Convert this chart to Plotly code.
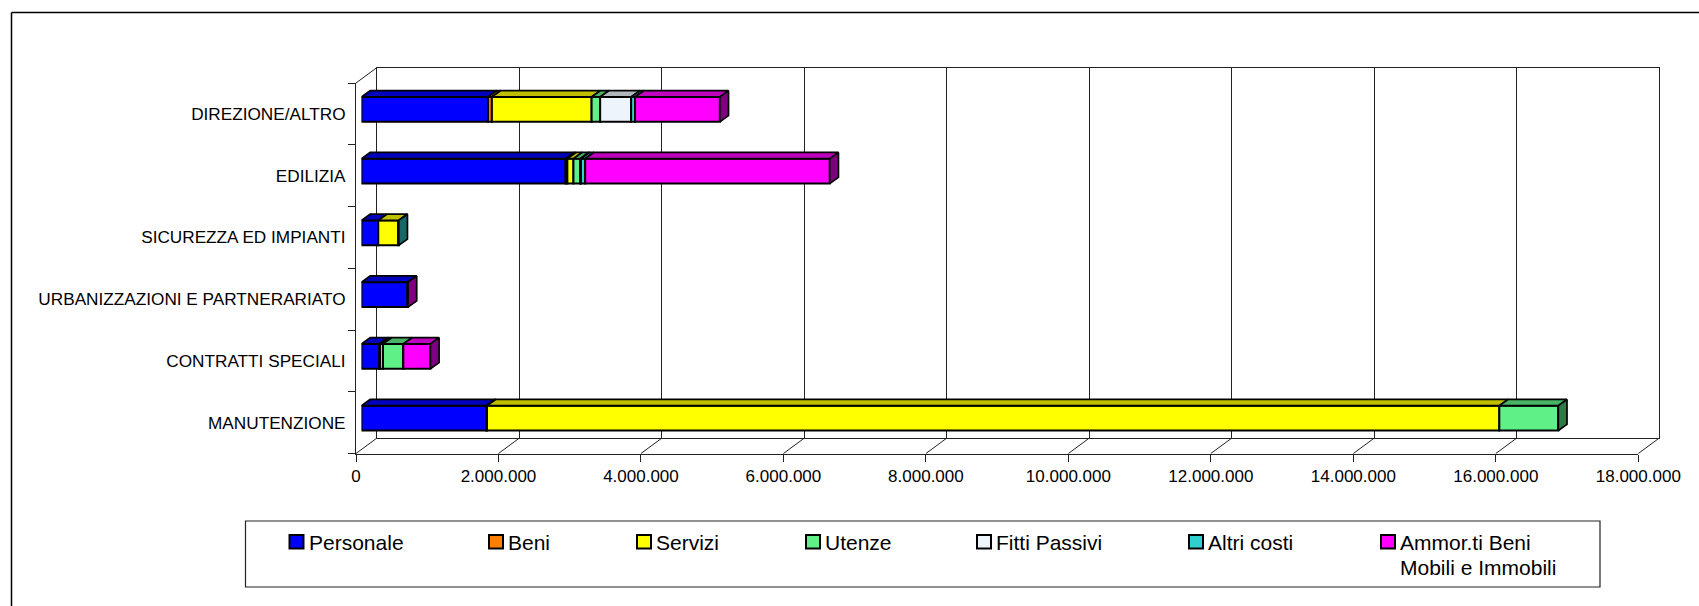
import plotly.graph_objects as go

W, H = 1699, 606

categories = ["MANUTENZIONE", "CONTRATTI SPECIALI", "URBANIZZAZIONI E PARTNERARIATO",
              "SICUREZZA ED IMPIANTI", "EDILIZIA", "DIREZIONE/ALTRO"]
personale = [1750000, 250000, 650000, 235000, 2865000, 1775000]
beni = [12000, 12000, 0, 0, 25000, 55000]
servizi = [14210000, 40000, 0, 285000, 85000, 1400000]
utenze = [828000, 285000, 0, 0, 95000, 120000]
fitti = [0, 0, 0, 0, 10000, 435000]
altri = [0, 0, 0, 3000, 60000, 55000]
ammortamenti = [0, 380000, 3000, 0, 3433000, 1190000]
series_names = ["Personale", "Beni", "Servizi", "Utenze", "Fitti Passivi", "Altri costi",
                "Ammor.ti Beni<br>Mobili e Immobili"]
series_values = [personale, beni, servizi, utenze, fitti, altri, ammortamenti]
series_colors = ["#0000FF", "#FF8000", "#FFFF00", "#60F088", "#EEF4FB", "#30D0D0", "#FF00FF"]
x_ticks = list(range(0, 18000001, 2000000))

FONT = "Liberation Sans"
X0, X1 = 356.0, 1638.3          # front axis, pixels
Y_TOP, Y_BOT = 83.0, 453.5
WALL_DX, WALL_DY = 21.0, 15.5   # depth of the back wall
BAR_DX, BAR_DY = 5.5, 4.5       # bars stand inside the depth
FACE_DX, FACE_DY = 8.7, 6.2     # depth of each bar
BAR_W = 0.404
LEG_X = [289.5, 489, 637, 806, 977, 1189, 1381]
LEG_LINE = 24.5


def fx(px):
    return px / W


def fy(py):
    return 1 - py / H


def shade(hex_color, k):
    r, g, b = int(hex_color[1:3], 16), int(hex_color[3:5], 16), int(hex_color[5:7], 16)
    return f"rgb({int(r * k)},{int(g * k)},{int(b * k)})"


val_per_px = 18000000 / (X1 - X0)
cat_per_px = 6 / (Y_BOT - Y_TOP)
face_dx = FACE_DX * val_per_px
face_dy = FACE_DY * cat_per_px
positions = list(range(len(categories)))

fig = go.Figure()

# back wall subplot (xy): only carries the grid
fig.add_trace(go.Scatter(x=[0], y=[0], xaxis="x", yaxis="y", mode="none", hoverinfo="skip", showlegend=False))
# front axes subplot (x2y2): ticks and labels
fig.add_trace(go.Scatter(x=[0] * 6, y=categories, xaxis="x2", yaxis="y2", mode="none",
                         hoverinfo="skip", showlegend=False))

# bars (x3y3)
cum = [0.0] * len(categories)
tops = []
for name, vals, col in zip(series_names, series_values, series_colors):
    fig.add_trace(go.Bar(y=positions, x=vals, base=cum, name=name.replace("<br>", " "), orientation="h",
                         width=BAR_W, xaxis="x3", yaxis="y3", showlegend=False,
                         marker=dict(color=col, line=dict(color="black", width=2))))
    px_, py_ = [], []
    for i, v in enumerate(vals):
        if v > 0:
            a, b = cum[i], cum[i] + v
            y = i + BAR_W / 2
            px_ += [a, b, b + face_dx, a + face_dx, a, None]
            py_ += [y, y, y + face_dy, y + face_dy, y, None]
    tops.append((px_, py_, shade(col, 0.75)))
    cum = [c + v for c, v in zip(cum, vals)]

for px_, py_, col in tops:
    fig.add_trace(go.Scatter(x=px_, y=py_, xaxis="x3", yaxis="y3", mode="lines", fill="toself", fillcolor=col,
                             line=dict(color="black", width=1.7), hoverinfo="skip", showlegend=False))

# right-hand face: colour of the last segment in each bar
for i in range(len(categories)):
    last = max(j for j, s in enumerate(series_values) if s[i] > 0)
    e = cum[i]
    lo, hi = i - BAR_W / 2, i + BAR_W / 2
    fig.add_trace(go.Scatter(x=[e, e + face_dx, e + face_dx, e, e],
                             y=[lo, lo + face_dy, hi + face_dy, hi, lo],
                             xaxis="x3", yaxis="y3", mode="lines", fill="toself",
                             fillcolor=shade(series_colors[last], 0.5),
                             line=dict(color="black", width=1.7), hoverinfo="skip", showlegend=False))

cat_range = [-0.5, 5.5]
hidden = dict(showticklabels=False, ticks="", showgrid=False, zeroline=False, showline=False)

layout = dict(
    template="none",
    width=W, height=H, margin=dict(l=0, r=0, t=0, b=0, pad=0), autosize=False,
    paper_bgcolor="white", plot_bgcolor="rgba(0,0,0,0)", showlegend=False, barmode="overlay",
    separators=",.", font=dict(family=FONT, color="black", size=17),
    xaxis=dict(domain=[fx(X0 + WALL_DX), fx(X1 + WALL_DX)], range=[0, 18000000], anchor="y",
               tickmode="array", tickvals=x_ticks, showticklabels=False, ticks="", showgrid=True,
               gridcolor="#222222", gridwidth=1, zeroline=False, showline=True, linecolor="#222222",
               linewidth=1, mirror=True),
    yaxis=dict(domain=[fy(Y_BOT - WALL_DY), fy(Y_TOP - WALL_DY)], range=[0, 1], anchor="x",
               showticklabels=False, ticks="", showgrid=False, zeroline=False, showline=True,
               linecolor="#222222", linewidth=1, mirror=True),
    xaxis2=dict(domain=[fx(X0), fx(X1)], range=[0, 18000000], anchor="y2", tickmode="array",
                tickvals=x_ticks, tickformat=",d", ticks="outside", ticklen=7, tickwidth=1, tickcolor="#222222",
                showgrid=False, zeroline=False, showline=True, linecolor="#222222", linewidth=1,
                tickfont=dict(family=FONT, size=17, color="black")),
    yaxis2=dict(domain=[fy(Y_BOT), fy(Y_TOP)], type="category", categoryorder="array",
                categoryarray=categories, range=cat_range, anchor="x2", tickson="boundaries",
                ticks="outside", ticklen=7, tickwidth=1, tickcolor="#222222", showgrid=False, zeroline=False,
                showline=True, linecolor="#222222", linewidth=1, ticklabelstandoff=6,
                tickfont=dict(family=FONT, size=17.2, color="black")),
    xaxis3=dict(domain=[fx(X0 + BAR_DX), fx(X1 + BAR_DX)], range=[0, 18000000], anchor="y3", **hidden),
    yaxis3=dict(domain=[fy(Y_BOT - BAR_DY), fy(Y_TOP - BAR_DY)], type="linear", range=cat_range,
                anchor="x3", **hidden),
)

shapes = []
line = dict(color="#222222", width=1)
# floor diagonals and the wall's upper-left corner
for k in range(len(x_ticks)):
    xk = X0 + k * (X1 - X0) / (len(x_ticks) - 1)
    shapes.append(dict(type="line", xref="paper", yref="paper", x0=fx(xk), y0=fy(Y_BOT),
                       x1=fx(xk + WALL_DX), y1=fy(Y_BOT - WALL_DY), line=line))
shapes.append(dict(type="line", xref="paper", yref="paper", x0=fx(X0), y0=fy(Y_TOP),
                   x1=fx(X0 + WALL_DX), y1=fy(Y_TOP - WALL_DY), line=line))
# outer frame: top and left edges run off the page
frame = dict(color="black", width=1.5)
shapes.append(dict(type="line", xref="paper", yref="paper", x0=fx(11.5), y0=fy(12.5), x1=1, y1=fy(12.5), line=frame))
shapes.append(dict(type="line", xref="paper", yref="paper", x0=fx(11.5), y0=fy(12.5), x1=fx(11.5), y1=0, line=frame))
# legend box
shapes.append(dict(type="rect", xref="paper", yref="paper", x0=fx(245.5), y0=fy(587), x1=fx(1600), y1=fy(521),
                   line=dict(color="#222222", width=1.2), fillcolor="white"))

annotations = []
for lx, name, col in zip(LEG_X, series_names, series_colors):
    shapes.append(dict(type="rect", xref="paper", yref="paper", x0=fx(lx), y0=fy(548.5), x1=fx(lx + 14),
                       y1=fy(535), fillcolor=col, line=dict(color="black", width=2)))
    for n, part in enumerate(name.split("<br>")):
        annotations.append(dict(text=part, xref="paper", yref="paper", x=fx(lx + 18), y=fy(530 + n * LEG_LINE),
                                xanchor="left", yanchor="top", align="left", showarrow=False,
                                font=dict(family=FONT, size=21, color="black"), borderpad=0))

layout["shapes"] = shapes
layout["annotations"] = annotations
fig.update_layout(**layout)
fig.write_html("out.html", config={"displayModeBar": False},
               post_script="document.body.style.margin='0';document.body.style.overflow='hidden';")
